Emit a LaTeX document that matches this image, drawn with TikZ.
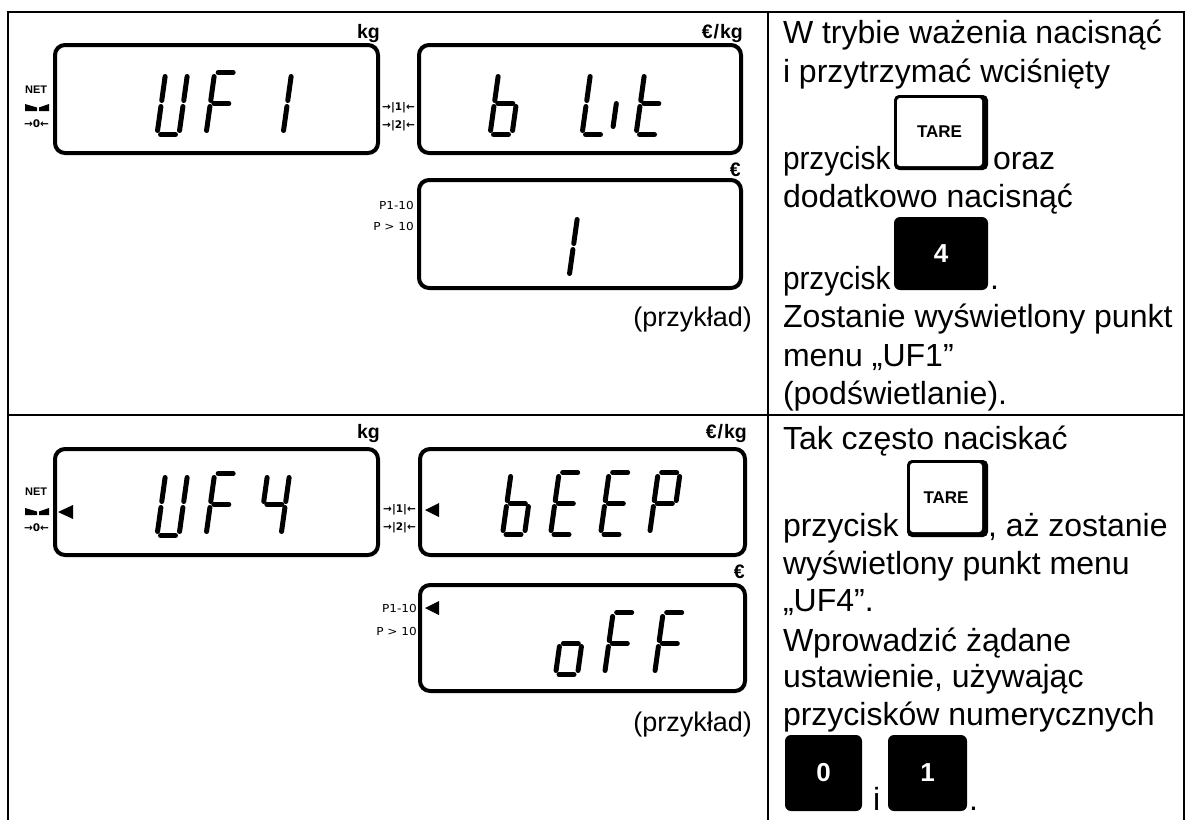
\documentclass[tikz,border=0pt]{standalone}
\usepackage{fontspec}
\usepackage{graphicx}
\setmainfont{Liberation Sans}
\newfontfamily\dvs{DejaVu Sans}

\def\sgA{(3.5,-62)--(18.5,-62)}
\def\sgB{(22,-58)--(22,-34)}
\def\sgC{(22,-28)--(22,-4)}
\def\sgD{(3.5,0)--(18.5,0)}
\def\sgE{(0,-28)--(0,-4)}
\def\sgF{(0,-58)--(0,-34)}
\def\sgG{(3.5,-31)--(18.5,-31)}
\def\sgI{(0,-31)--(0,-8)}

\newcommand{\sevdigit}[3]{%
  \begin{scope}[shift={(#1,#2)}, xslant=0.14]
    \foreach \segname in {#3}{%
      \edef\segcmd{\noexpand\draw[seg] \csname sg\segname\endcsname;}%
      \segcmd}%
  \end{scope}}

\tikzset{
  seg/.style={line width=5pt, line cap=round},
  lcd/.style={line width=4pt, rounded corners=10pt},
  tbl/.style={line width=2pt},
  bodytext/.style={anchor=base west, inner sep=0pt, outer sep=0pt, font=\fontsize{32}{38}\selectfont},
  example/.style={anchor=base east, inner sep=0pt, font=\fontsize{27}{30}\selectfont},
  unitlabel/.style={anchor=base east, inner sep=0pt, font=\bfseries\fontsize{19.5}{20}\selectfont},
  netlabel/.style={anchor=base west, inner sep=0pt, font=\bfseries\fontsize{11}{12}\selectfont},
  arrowlabel/.style={inner sep=0pt, font=\dvs\bfseries\fontsize{10.5}{12}\selectfont},
  rangelabel/.style={anchor=east, inner sep=0pt, font=\dvs\fontsize{11}{12}\selectfont},
  pointer/.style={fill=black},
  blackkey/.style={fill=black, rounded corners=6pt, text=white, font=\bfseries\fontsize{26}{26}\selectfont, inner sep=0pt},
  tarelabel/.style={fill=white, rounded corners=3pt, inner sep=0pt, font=\bfseries\fontsize{17}{17}\selectfont},
  keyshadow/.style={fill=black, rounded corners=5pt},
}

\begin{document}
\begin{tikzpicture}[x=1pt,y=-1pt]
\useasboundingbox (0,0) rectangle (1187,820);

% table grid
\draw[tbl] (8,820) -- (8,12) -- (1184,12) -- (1184,820);
\draw[tbl] (768,12) -- (768,820);
\draw[tbl] (8,415) -- (1184,415);

% ================= top row displays =================
\draw[lcd] (55,45) rectangle (378,153);
\draw[lcd] (419,45) rectangle (741,153);
\draw[lcd] (419,180) rectangle (741,288);

\node[unitlabel] (kg1) at (380,38) {kg};
\node[unitlabel] (ekg1) at (743,38) {€\kern1pt/\kern1pt kg};
\node[unitlabel] (eur1) at (741,176) {€};

\node[netlabel] (net1) at (25,93) {NET};
\fill (25,104) -- (37,107.5) -- (37,111) -- (25,111) -- cycle;
\fill (49,104) -- (39,107.5) -- (39,111) -- (49,111) -- cycle;
\node[arrowlabel] (zero1) at (36.5,124) {→0←};

\node[arrowlabel, anchor=east] (r11) at (415,108) {→|1|←};
\node[arrowlabel, anchor=east] (r21) at (415,125.5) {→|2|←};
\node[rangelabel] (p1a) at (414,205) {\scalebox{1.1}[1]{P1-10}};
\node[rangelabel] (p2a) at (414,226) {\scalebox{1.1}[1]{P > 10}};

% digits top
\sevdigit{157}{134.5}{B,C,D,E,F}
\sevdigit{206}{134.5}{A,E,F,G}
\sevdigit{261}{134.5}{B,C}

\sevdigit{490}{134.5}{C,D,E,F,G}
\sevdigit{582}{134.5}{D,E,F}
\sevdigit{612}{134.5}{I}
\sevdigit{636}{134.5}{D,E,F,G}

\sevdigit{547}{277.5}{B,C}

\node[example] (ex1) at (752,326) {(przykład)};

% ================= bottom row displays =================
\draw[lcd] (55,449) rectangle (378,555);
\draw[lcd] (420,449) rectangle (745,555);
\draw[lcd] (420,585) rectangle (745,691);

\node[unitlabel] (kg2) at (380,438) {kg};
\node[unitlabel] (ekg2) at (747,438) {€\kern1pt/\kern1pt kg};
\node[unitlabel] (eur2) at (745,578) {€};

\node[netlabel] (net2) at (25,495) {NET};
\fill (25,508) -- (37,511.5) -- (37,515) -- (25,515) -- cycle;
\fill (49,508) -- (39,511.5) -- (39,515) -- (49,515) -- cycle;
\node[arrowlabel] (zero2) at (36.5,527.5) {→0←};

\node[arrowlabel, anchor=east] (r12) at (416,510) {→|1|←};
\node[arrowlabel, anchor=east] (r22) at (416,528) {→|2|←};
\node[rangelabel] (p1b) at (417,608) {\scalebox{1.1}[1]{P1-10}};
\node[rangelabel] (p2b) at (417,631) {\scalebox{1.1}[1]{P > 10}};

% pointers
\fill[pointer] (58,512) -- (73,505) -- (73,519) -- cycle;
\fill[pointer] (425,510) -- (439,503) -- (439,517) -- cycle;
\fill[pointer] (425,608) -- (439,601) -- (439,615) -- cycle;

% digits bottom
\sevdigit{157}{535.5}{B,C,D,E,F}
\sevdigit{206}{535.5}{A,E,F,G}
\sevdigit{259}{535.5}{B,C,F,G}

\sevdigit{502.5}{534.5}{C,D,E,F,G}
\sevdigit{550.5}{534.5}{A,D,E,F,G}
\sevdigit{600.5}{534.5}{A,D,E,F,G}
\sevdigit{649.5}{534.5}{A,B,E,F,G}

\sevdigit{555.5}{674.5}{C,D,E,G}
\sevdigit{604.5}{674.5}{A,E,F,G}
\sevdigit{654.5}{674.5}{A,E,F,G}

\node[example] (ex2) at (752,731) {(przykład)};

% ================= text column top =================
\node[bodytext] (t1) at (783,43) {W trybie ważenia nacisnąć};
\node[bodytext] (t2) at (783,82) {i przytrzymać wciśnięty};
\node[bodytext] (t3) at (783,169) {\scalebox{0.93}[1]{przycisk}};
\fill[keyshadow] (894,95) rectangle (988,170);
\node[tarelabel, minimum width=85pt, minimum height=68pt] (tare1) at (939.5,132) {TARE};
\node[bodytext] (t4) at (993,169) {oraz};
\node[bodytext] (t5) at (783,207) {dodatkowo nacisnąć};
\node[bodytext] (t6) at (783,289) {\scalebox{0.93}[1]{przycisk}};
\node[blackkey, minimum width=94pt, minimum height=73pt] (key4) at (941,253.5) {4};
\node[bodytext] (t7) at (990,289) {.};
\node[bodytext] (t8) at (783,327) {Zostanie wyświetlony punkt};
\node[bodytext] (t9) at (783,366) {menu „UF1”};
\node[bodytext] (t10) at (783,404) {(podświetlanie).};

% ================= text column bottom =================
\node[bodytext] (b1) at (783,449) {Tak często naciskać};
\node[bodytext] (b2) at (783,536) {przycisk};
\fill[keyshadow] (907,460) rectangle (988,537);
\node[tarelabel, minimum width=72pt, minimum height=69pt] (tare2) at (946,497.5) {TARE};
\node[bodytext] (b3) at (988,536) {, aż zostanie};
\node[bodytext] (b4) at (783,574) {wyświetlony punkt menu};
\node[bodytext] (b5) at (783,611) {„UF4”.};
\node[bodytext] (b6) at (783,651) {Wprowadzić żądane};
\node[bodytext] (b7) at (783,687) {ustawienie, używając};
\node[bodytext] (b8) at (783,725) {przycisków numerycznych};
\node[blackkey, minimum width=77pt, minimum height=76pt] (key0) at (823.5,773) {0};
\node[bodytext] (b9) at (873,810) {i};
\node[blackkey, minimum width=79pt, minimum height=76pt] (key1) at (927.5,773) {1};
\node[bodytext] (b10) at (969,810) {.};
\end{tikzpicture}
\end{document}
